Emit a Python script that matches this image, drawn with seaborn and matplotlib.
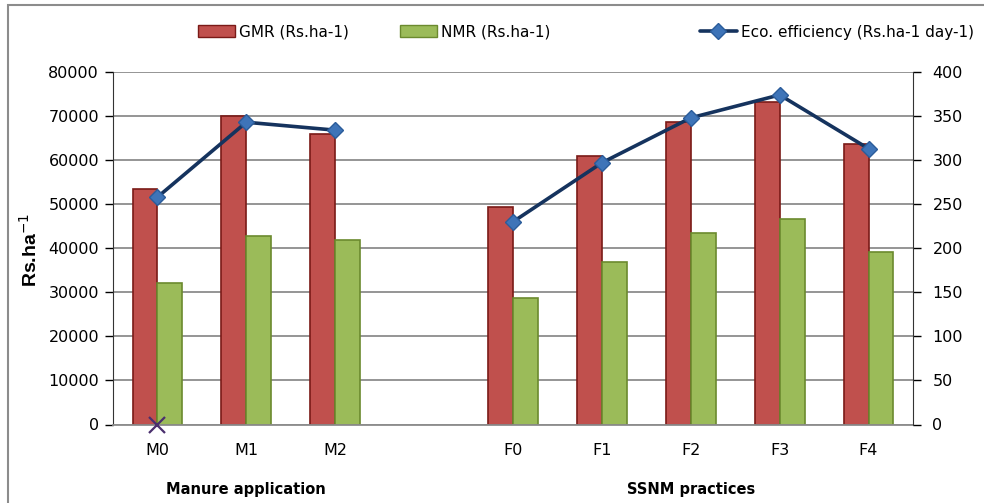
import numpy as np
import pandas as pd
import matplotlib
matplotlib.use("Agg")
import matplotlib.pyplot as plt
import seaborn as sns
from matplotlib.patches import Patch, Rectangle
from matplotlib.lines import Line2D

# data
categories = ["M0", "M1", "M2", " ", "F0", "F1", "F2", "F3", "F4"]
gmr = [53400, 70100, 66000, np.nan, 49400, 61000, 68700, 73300, 63700]
nmr = [32200, 42700, 41800, np.nan, 28800, 36900, 43500, 46700, 39100]
eco = [258, 343, 334, np.nan, 230, 297, 348, 374, 313]
stray_value = 0  # lone "x" marker under M0 in the original
group_labels = ["Manure application", "SSNM practices"]
group_members = [["M0", "M1", "M2"], ["F0", "F1", "F2", "F3", "F4"]]

gmr_name = "GMR (Rs.ha-1)"
nmr_name = "NMR (Rs.ha-1)"
eco_name = "Eco. efficiency (Rs.ha-1 day-1)"

df = pd.DataFrame({"treatment": categories, gmr_name: gmr, nmr_name: nmr})
long_df = df.melt(id_vars="treatment", var_name="series", value_name="value").dropna()

sns.set_style("white")
plt.rcParams["font.family"] = ["DejaVu Sans"]
plt.rcParams["text.color"] = "black"
plt.rcParams["xtick.color"] = "black"
plt.rcParams["ytick.color"] = "black"

fig = plt.figure(figsize=(9.84, 5.03), dpi=100)
ax = fig.add_axes([113 / 984, 1 - 424.5 / 503, 800 / 984, 352.5 / 503])

red = "#C0504D"
green = "#9BBB59"
sns.barplot(data=long_df, x="treatment", y="value", hue="series", order=categories,
            hue_order=[gmr_name, nmr_name], palette=[red, green], width=0.56,
            saturation=1, legend=False, ax=ax)
for cont, ec in zip(ax.containers, ["#7A1A17", "#6B8A2E"]):
    for p in cont:
        p.set_edgecolor(ec)
        p.set_linewidth(1.2)

ax.set_xlim(-0.5, len(categories) - 0.5)
ax.set_ylim(0, 80000)
ax.set_yticks(np.arange(0, 80001, 10000))
ax.yaxis.grid(True, color="#8C8C8C", lw=1.3)
ax.set_axisbelow(True)
ax.set_xlabel("")
ax.set_ylabel("")
ax.tick_params(axis="y", direction="out", length=6, width=1, left=True, labelsize=11.5, pad=4)
ax.tick_params(axis="x", length=0, labelsize=11.5, pad=13)
for s in ["top", "right"]:
    ax.spines[s].set_visible(False)
ax.spines["left"].set_color("#333333")
ax.spines["bottom"].set_color("#8C8C8C")
ax.spines["bottom"].set_linewidth(1.3)

ax2 = ax.twinx()
xpos = np.arange(len(categories))
ax2.plot(xpos, eco, color="#15335E", lw=2.6, marker="D", ms=8,
         mfc="#3E74B8", mec="#2B5C9A", mew=1, zorder=5)
ax2.plot(categories.index("M0"), stray_value, marker="x", color="#4A2F6E", ms=11, mew=1.6,
         clip_on=False, zorder=6)
ax2.set_ylim(0, 400)
ax2.set_yticks(np.arange(0, 401, 50))
ax2.tick_params(axis="y", direction="out", length=6, width=1, labelsize=11.5, pad=8)
for s in ["top", "left", "bottom"]:
    ax2.spines[s].set_visible(False)
ax2.spines["right"].set_color("#333333")
ax2.set_xlim(-0.5, len(categories) - 0.5)

fig.text(30 / 984, 1 - 250 / 503, "Rs.ha$^{-1}$", rotation=90, ha="center", va="center",
         fontsize=14, fontweight="bold", family=["Liberation Sans", "DejaVu Sans"])

for label, members in zip(group_labels, group_members):
    idx = [categories.index(m) for m in members]
    xc = np.mean(idx)
    ax.text(xc, -0.185, label, transform=ax.get_xaxis_transform(), ha="center", va="center",
            fontsize=10.5, fontweight="bold")

# legend entries placed like the original
entries = [
    (198, Patch(facecolor=red, edgecolor="#7A1A17"), gmr_name),
    (400, Patch(facecolor=green, edgecolor="#6B8A2E"), nmr_name),
    (700, Line2D([], [], color="#15335E", lw=2.6, marker="D", ms=8, mfc="#3E74B8", mec="#2B5C9A"), eco_name),
]
for x0, h, lab in entries:
    fig.legend([h], [lab], loc="center left", bbox_to_anchor=(x0 / 984, 1 - 32 / 503),
               frameon=False, borderpad=0, borderaxespad=0, handlelength=2.4,
               handleheight=0.8, handletextpad=0.3, fontsize=11, labelcolor="black")

fig.patches.append(Rectangle((8 / 984, -0.05), 1.2, 1 - 5 / 503 + 0.05, transform=fig.transFigure,
                             fill=False, edgecolor="#8C8C8C", lw=1.5))

fig.savefig("out.png", dpi=100)
